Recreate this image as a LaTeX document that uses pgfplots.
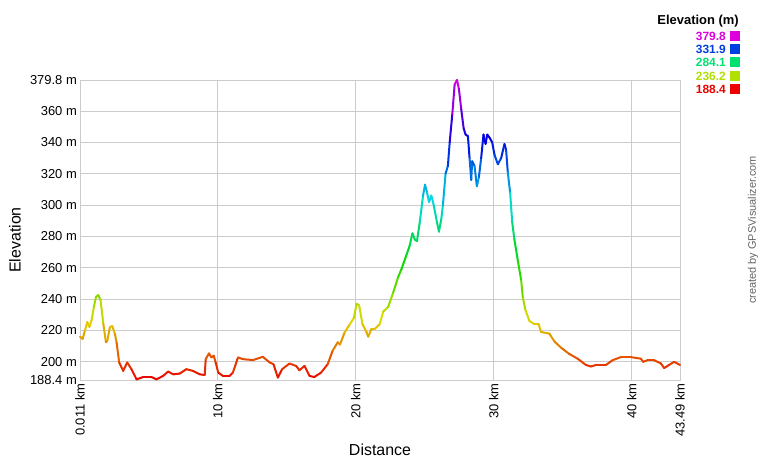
\documentclass[border=0pt]{standalone}
\usepackage{pgfplots}
\pgfplotsset{compat=1.18}
\usepackage{fontspec}
\setmainfont{Liberation Sans}
\definecolor{gridgray}{RGB}{204,204,204}
\definecolor{cmag}{RGB}{221,0,221}
\definecolor{cblue}{RGB}{0,64,224}
\definecolor{cgreen}{RGB}{0,224,112}
\definecolor{cyg}{RGB}{176,224,0}
\definecolor{cred}{RGB}{238,0,0}
\begin{document}
\begin{tikzpicture}[x=1bp,y=1bp]
\useasboundingbox (0,0) rectangle (760,460);
\begin{axis}[
  at={(80bp,80bp)}, anchor=south west,
  scale only axis, width=600bp, height=300bp,
  xmin=0.011, xmax=43.49, ymin=188.4, ymax=379.8,
  axis line style={gridgray},
  grid=major, grid style={gridgray, line width=0.8pt},
  major tick length=0pt,
  xtick={0.011,10,20,30,40,43.49},
  xticklabels={0.011 km,10 km,20 km,30 km,40 km,43.49 km},
  ytick={188.4,200,220,240,260,280,300,320,340,360,379.8},
  yticklabels={188.4 m,200 m,220 m,240 m,260 m,280 m,300 m,320 m,340 m,360 m,379.8 m},
  xticklabel style={rotate=90, anchor=east, font=\fontsize{13}{15}\selectfont, inner sep=3.5pt},
  yticklabel style={font=\fontsize{13}{15}\selectfont, inner sep=3pt},
  colormap={elev}{rgb255(0cm)=(232,0,0); rgb255(1cm)=(225,218,0); rgb255(2cm)=(0,218,0); rgb255(3cm)=(0,218,225); rgb255(4cm)=(0,0,225); rgb255(5cm)=(222,0,222)},
  point meta min=188.4, point meta max=379.8,
  clip=false,
]
\addplot[mesh, point meta=y, line width=2bp, line join=round, line cap=round] coordinates {
(0.011,216) (0.2,214.6) (0.37,220) (0.54,225.4) (0.69,222.2) (0.85,226.5) (1.02,235.1) (1.17,241.5) (1.34,242.6) (1.5,239.4) (1.7,224.3) (1.89,212.5) (1.99,213.5) (2.18,222.2) (2.35,222.8) (2.54,217.8) (2.66,212.5) (2.85,199.6) (3.14,194.2) (3.43,199.6) (3.74,195.3) (4.11,188.8) (4.59,190.3) (5.19,190.3) (5.55,188.8) (6.03,191) (6.4,193.8) (6.76,192) (7.24,192.5) (7.72,195.3) (8.2,194.2) (8.69,192) (9.05,191.6) (9.12,201.7) (9.36,205.4) (9.53,202.8) (9.7,203.9) (9.84,199.6) (10.03,193.1) (10.37,191) (10.85,191) (11.09,193.1) (11.46,202.8) (11.82,201.7) (12.54,201.1) (13.26,203.2) (13.75,199.6) (14.03,198.5) (14.35,189.9) (14.66,195.3) (15.19,198.9) (15.67,197.4) (15.91,194.6) (16.28,197.4) (16.64,191) (16.99,190.3) (17.48,193.1) (17.96,198.5) (18.32,207.1) (18.69,212.5)
(18.85,211) (19.2,219) (19.57,224) (19.86,228) (20.05,237) (20.24,236) (20.48,224) (20.77,219) (20.9,216) (21.13,221) (21.37,221) (21.73,224) (21.98,232) (22.34,235) (22.7,244) (23.06,254) (23.3,259) (23.66,268) (23.9,274) (24.1,282) (24.27,278) (24.43,277) (24.63,289) (24.87,306) (25.01,313) (25.16,308) (25.3,302) (25.47,306) (25.64,300) (25.88,289) (26.02,283) (26.19,291) (26.31,300) (26.5,320) (26.67,325) (26.8,340) (26.99,358) (27.16,377) (27.33,379.8) (27.47,374) (27.64,361) (27.81,349) (27.95,345) (28.12,344) (28.24,330) (28.36,316) (28.43,328) (28.6,325) (28.77,312) (28.92,318) (29.08,330) (29.25,345) (29.4,339) (29.52,345) (29.69,343) (29.88,340) (30.05,332) (30.29,326) (30.53,330) (30.77,339) (30.89,335) (31.01,321) (31.18,308) (31.33,289) (31.49,278) (31.73,265) (31.98,252) (32.1,241) (32.29,233) (32.58,226) (32.94,224) (33.25,224) (33.42,219) (34.02,218) (34.39,213) (34.87,209) (35.47,205) (36.07,202) (36.67,198) (37.04,197) (37.4,198) (38.12,198) (38.6,201) (39.2,203) (39.93,203) (40.65,202) (40.82,200) (41.13,201) (41.61,201) (42.1,199) (42.34,196) (42.7,198) (43.06,200) (43.49,198)
};
\end{axis}
% axis titles
\node[rotate=90, font=\fontsize{16}{18}\selectfont] at (15,220) {Elevation};
\node[font=\fontsize{16}{18}\selectfont] at (380,10) {Distance};
% watermark
\node[rotate=90, font=\fontsize{11}{13}\selectfont, text=black!60] at (753,230) {created by GPSVisualizer.com};
% legend
\node[anchor=east, font=\bfseries\fontsize{13}{15}\selectfont, inner sep=0pt] at (739,439) {Elevation (m)};
\foreach \v/\c/\y in {379.8/cmag/424, 331.9/cblue/411, 284.1/cgreen/398, 236.2/cyg/384, 188.4/cred/371}{
  \node[anchor=east, font=\bfseries\fontsize{12}{14}\selectfont, text=\c, inner sep=0pt] at (726,\y) {\v};
  \fill[\c] (730,\y-5) rectangle (740,\y+5);
}
\end{tikzpicture}
\end{document}
